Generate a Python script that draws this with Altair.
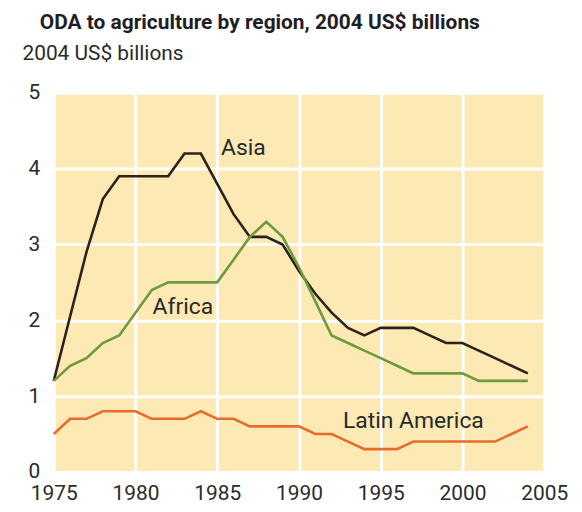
import altair as alt
import pandas as pd

years = list(range(1975, 2005))
asia = [1.2, 2.05, 2.9, 3.6, 3.9, 3.9, 3.9, 3.9, 4.2, 4.2,
        3.8, 3.4, 3.1, 3.1, 3.0, 2.65, 2.35, 2.1, 1.9, 1.8,
        1.9, 1.9, 1.9, 1.8, 1.7, 1.7, 1.6, 1.5, 1.4, 1.3]
africa = [1.2, 1.4, 1.5, 1.7, 1.8, 2.1, 2.4, 2.5, 2.5, 2.5,
          2.5, 2.8, 3.1, 3.3, 3.1, 2.7, 2.25, 1.8, 1.7, 1.6,
          1.5, 1.4, 1.3, 1.3, 1.3, 1.3, 1.2, 1.2, 1.2, 1.2]
latam = [0.5, 0.7, 0.7, 0.8, 0.8, 0.8, 0.7, 0.7, 0.7, 0.8,
         0.7, 0.7, 0.6, 0.6, 0.6, 0.6, 0.5, 0.5, 0.4, 0.3,
         0.3, 0.3, 0.4, 0.4, 0.4, 0.4, 0.4, 0.4, 0.5, 0.6]

regions = ["Asia", "Africa", "Latin America"]
colors = ["#2b2319", "#6e9a3c", "#ea6a2c"]
label_x = [1986.6, 1982.9, 1997.0]
label_y = [4.27, 2.18, 0.67]

x_ticks = [1975, 1980, 1985, 1990, 1995, 2000, 2005]
y_ticks = [0, 1, 2, 3, 4, 5]

FONT = "Roboto, Liberation Sans, sans-serif"

rows = []
for name, vals in zip(regions, [asia, africa, latam]):
    for yr, v in zip(years, vals):
        rows.append({"year": yr, "value": v, "region": name})
df = pd.DataFrame(rows)
labels = pd.DataFrame({"region": regions, "x": label_x, "y": label_y})

xscale = alt.Scale(domain=[1975, 2005], nice=False, zero=False)
yscale = alt.Scale(domain=[0, 5], nice=False)
cscale = alt.Scale(domain=regions, range=colors)

lines = alt.Chart(df).mark_line(strokeWidth=2.6).encode(
    x=alt.X("year:Q", scale=xscale,
            axis=alt.Axis(values=x_ticks, format="d", title=None, grid=True,
                          gridColor="white", gridWidth=3, domain=False, ticks=False,
                          labelFont=FONT, labelFontSize=21, labelColor="#2a2a2a",
                          labelPadding=11, labelFlush=False)),
    y=alt.Y("value:Q", scale=yscale,
            axis=alt.Axis(values=y_ticks, format="d", title="2004 US$ billions", grid=True,
                          gridColor="white", gridWidth=3, domain=False, ticks=False,
                          labelFont=FONT, labelFontSize=21, labelColor="#2a2a2a",
                          labelPadding=14,
                          titleAngle=0, titleAlign="left", titleBaseline="alphabetic",
                          titleX=-32, titleY=-34, titleFont=FONT, titleFontSize=21,
                          titleFontWeight="normal", titleColor="#2a2a2a")),
    color=alt.Color("region:N", scale=cscale, legend=None),
    detail="region:N",
)

text = alt.Chart(labels).mark_text(font=FONT, fontSize=23, color="#2a2a2a").encode(
    x=alt.X("x:Q", scale=xscale),
    y=alt.Y("y:Q", scale=yscale),
    text="region:N",
)

chart = alt.layer(lines, text).properties(
    width=493, height=381,
    padding={"left": 46, "top": 84, "right": 30, "bottom": 38},
    autosize=alt.AutoSizeParams(type="none"),
    title=alt.TitleParams(
        "ODA to agriculture by region, 2004 US$ billions",
        anchor="start", frame="group", dx=-14, offset=9,
        font=FONT, fontSize=21, fontWeight="bold", color="#1e1e26",
    ),
).configure_view(fill="#fde9b4", stroke=None)

chart.save("out.html", embed_options={"renderer": "svg", "actions": False})
